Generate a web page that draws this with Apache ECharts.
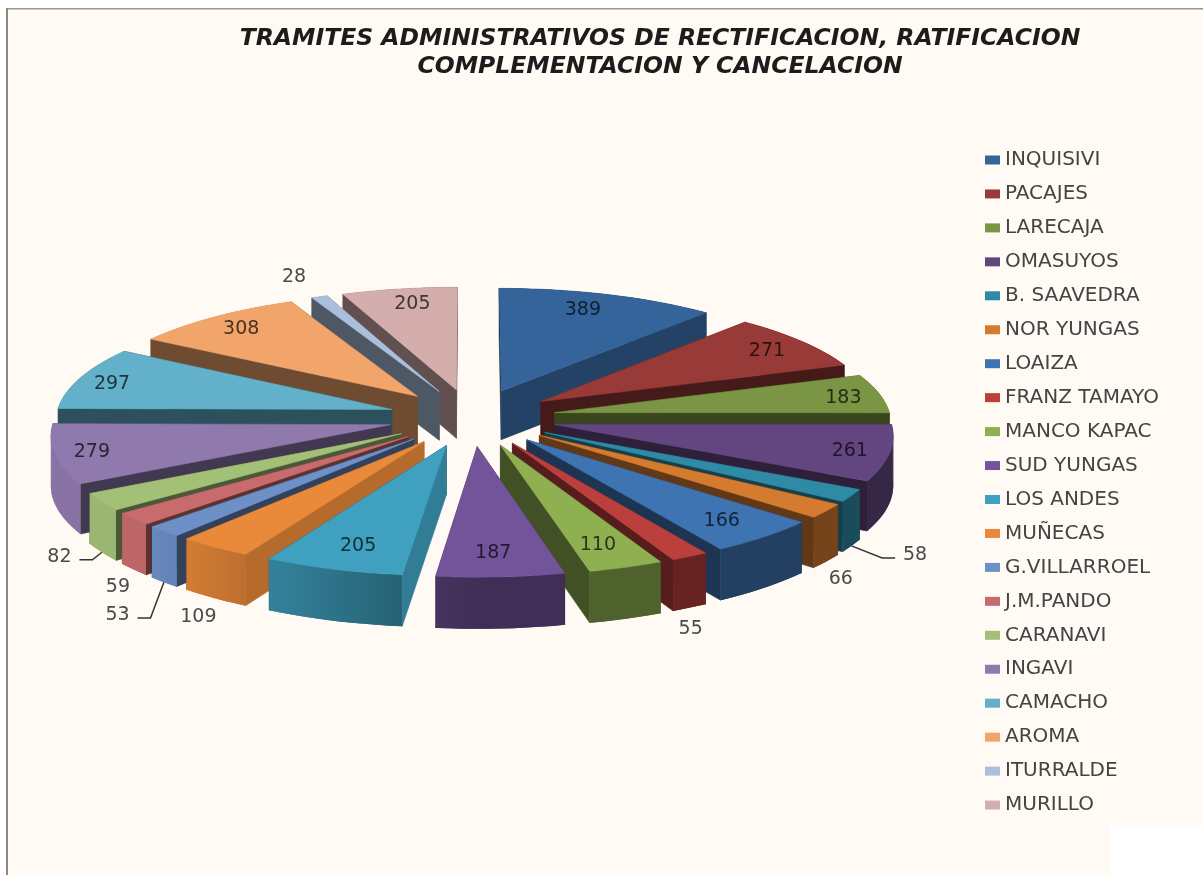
<!DOCTYPE html>
<html>
<head>
<meta charset="utf-8">
<style>html,body{margin:0;padding:0;background:#fff;overflow:hidden}#c{width:1203px;height:875px}</style>
<script src="https://cdn.jsdelivr.net/npm/echarts@6/dist/echarts.min.js"></script>
</head>
<body>
<div id="c"></div>
<script>
const categories = ['INQUISIVI','PACAJES','LARECAJA','OMASUYOS','B. SAAVEDRA','NOR YUNGAS','LOAIZA','FRANZ TAMAYO','MANCO KAPAC','SUD YUNGAS','LOS ANDES','MUÑECAS','G.VILLARROEL','J.M.PANDO','CARANAVI','INGAVI','CAMACHO','AROMA','ITURRALDE','MURILLO'];
const values = [389,271,183,261,58,66,166,55,110,187,205,109,53,59,82,279,297,308,28,205];
const colors = ['#35649a','#973a38','#7a9543','#63467f','#2f8aa5','#d47b2f','#3f74b3','#bb3f3c','#8fb050','#73549b','#3fa0bf','#e9893a','#6d90c8','#c76b6c','#a3c077','#9079ad','#62b0c9','#f2a56b','#a9bfdc','#d4adad'];
// label placement, in pie radii and degrees away from each slice's middle
const labelRadius = [.825,.85,.884,.885,1.38,1.362,.839,1.454,.824,.828,.822,1.437,1.528,1.378,1.328,.893,.886,.85,1.229,.84];
const labelShift  = [-1.8,1,1.2,.7,13.2,17,.6,10.2,.9,.6,-.7,-10.6,-13.1,-15.6,-13,-.6,-1.6,-.5,0,1];
const leaderSlices = ['B. SAAVEDRA','G.VILLARROEL','CARANAVI'];

// view of the tilted pie
const CX = 472, CY = 417.5, RX = 336, RY = 115, PERSP = .08, EXPLODE = .25, DEPTH = 49;

const total = values.reduce((a, b) => a + b, 0);
let running = 0;
const angles = values.map(v => { const s = running; running += v; return [s / total * 2 * Math.PI, running / total * 2 * Math.PI]; });

function shade(hex, f) {
  const n = parseInt(hex.slice(1), 16);
  const ch = s => Math.round(Math.min(255, ((n >> s) & 255) * f));
  return 'rgb(' + ch(16) + ',' + ch(8) + ',' + ch(0) + ')';
}
function project(u, v, low) {
  const k = 1 / (1 - PERSP * v);
  return [CX + RX * u * k, CY + RY * v * k + (low ? DEPTH * Math.sqrt(k) : 0)];
}
function pt(th, r, mid, low) {
  return project(r * Math.sin(th) + EXPLODE * Math.sin(mid), -r * Math.cos(th) - EXPLODE * Math.cos(mid), low);
}
const rimLight = th => Math.min(.95, .55 + .55 * Math.max(0, -Math.sin(th)));
function renderSlice(i) {
  return function (params, api) {
    const value = api.value(0);
    const [a0, a1] = angles[i];
    const mid = (a0 + a1) / 2;
    const col = colors[i];
    const poly = (points, fill) => ({ type: 'polygon', silent: true, shape: { points }, style: { fill, stroke: fill, lineWidth: .6 } });
    const faces = [];
    // radial walls
    const startLight = (a0 > Math.PI && a0 < Math.PI * 1.2) ? .78 : .46;
    const endLight = a1 < Math.PI / 4 ? .66 : .46;
    [[a0, startLight], [a1, endLight]].forEach(([th, f]) => {
      faces.push({ depth: -Math.cos(th) * .5 - Math.cos(mid) * EXPLODE,
        els: [poly([pt(th, 0, mid), pt(th, 1, mid), pt(th, 1, mid, true), pt(th, 0, mid, true)], shade(col, f))] });
    });
    // outer rim: one light gradient over the whole arc
    const n = Math.max(2, Math.ceil((a1 - a0) / (2 * Math.PI / 180)));
    const arc = [], arcLow = [];
    for (let s = 0; s <= n; s++) {
      const t = a0 + (a1 - a0) * s / n;
      arc.push(pt(t, 1, mid)); arcLow.push(pt(t, 1, mid, true));
    }
    const xa = arc[0][0], xb = arc[n][0];
    const stops = [];
    for (let s = 0; s <= 6; s++) stops.push({ offset: s / 6, color: shade(col, rimLight(a0 + (a1 - a0) * s / 6)) });
    const rimFill = Math.abs(xb - xa) < 1 ? shade(col, rimLight(mid)) :
      { type: 'linear', global: true, x: xa, y: 0, x2: xb, y2: 0, colorStops: stops };
    const rimEls = [{ type: 'polygon', silent: true, shape: { points: arc.concat(arcLow.slice().reverse()) }, style: { fill: rimFill } }];
    // the arc can bulge past its end point, so the swept pieces fill the silhouette there
    for (let s = 0; s < n; s++) {
      rimEls.push({ type: 'polygon', silent: true, shape: { points: [arc[s], arc[s + 1], arcLow[s + 1], arcLow[s]] }, style: { fill: rimFill } });
    }
    faces.push({ depth: -Math.cos(mid) * (1 + EXPLODE), els: rimEls });
    faces.sort((a, b) => a.depth - b.depth);
    const children = [];
    faces.forEach(f => children.push(...f.els));
    // top face
    children.push(poly([pt(a0, 0, mid)].concat(arc), col));
    // value label
    const lr = labelRadius[i], lth = mid + labelShift[i] * Math.PI / 180;
    const lp = pt(lth, lr, mid);
    const outside = lr > 1;
    children.push({
      type: 'text', silent: true,
      style: { text: String(value), x: lp[0], y: lp[1], align: 'center', verticalAlign: 'middle',
        font: '19px "DejaVu Sans"', fill: outside ? '#4a4a4a' : shade(col, .3) }
    });
    if (leaderSlices.includes(categories[i])) {
      const from = pt(mid, 1, mid, true);
      const dir = from[0] > lp[0] ? 1 : -1;
      const end = [lp[0] + dir * 20, lp[1] + 3];
      const elbow = [end[0] + dir * 13, end[1]];
      children.push({ type: 'polyline', silent: true, shape: { points: [from, elbow, end] },
        style: { stroke: '#333', lineWidth: 1.5, fill: null } });
    }
    return { type: 'group', children };
  };
}

// back slices first, so the nearer ones paint over them
const rank = values.map((_, i) => i).sort((p, q) =>
  -Math.cos((angles[p][0] + angles[p][1]) / 2) + Math.cos((angles[q][0] + angles[q][1]) / 2));

const series = categories.map((name, i) => ({
  type: 'custom', name, coordinateSystem: 'none', z: 2 + rank.indexOf(i), animation: false, silent: true,
  itemStyle: { color: colors[i] }, data: [[values[i]]], renderItem: renderSlice(i), clip: false
}));

const chart = echarts.init(document.getElementById('c'), null, { renderer: 'canvas' });
chart.setOption({
  backgroundColor: '#fffaf3',
  animation: false,
  title: {
    text: 'TRAMITES ADMINISTRATIVOS DE RECTIFICACION, RATIFICACION\nCOMPLEMENTACION Y CANCELACION',
    left: 655, top: 20, textAlign: 'center',
    textStyle: { fontFamily: '"DejaVu Sans"', fontSize: 23.5, fontWeight: 'bold', fontStyle: 'italic', color: '#1c1c1c', lineHeight: 28 }
  },
  legend: {
    orient: 'vertical', left: 980, top: 145, itemWidth: 15, itemHeight: 9, itemGap: 13.95,
    icon: 'rect', selectedMode: false, z: 100,
    data: categories,
    textStyle: { fontFamily: '"DejaVu Sans"', fontSize: 20, lineHeight: 20, color: '#444' }
  },
  graphic: [
    { type: 'rect', shape: { x: 0, y: 0, width: 1203, height: 8 }, style: { fill: '#fff' }, silent: true },
    { type: 'rect', shape: { x: 0, y: 0, width: 6, height: 875 }, style: { fill: '#fff' }, silent: true },
    { type: 'rect', shape: { x: 1110, y: 825, width: 93, height: 50 }, style: { fill: '#fff' }, silent: true },
    { type: 'rect', shape: { x: 6, y: 8, width: 1197, height: 1.5 }, style: { fill: '#9a9690' }, silent: true },
    { type: 'rect', shape: { x: 6, y: 8, width: 2, height: 867 }, style: { fill: '#8c8880' }, silent: true }
  ],
  series
});
</script>
</body>
</html>
